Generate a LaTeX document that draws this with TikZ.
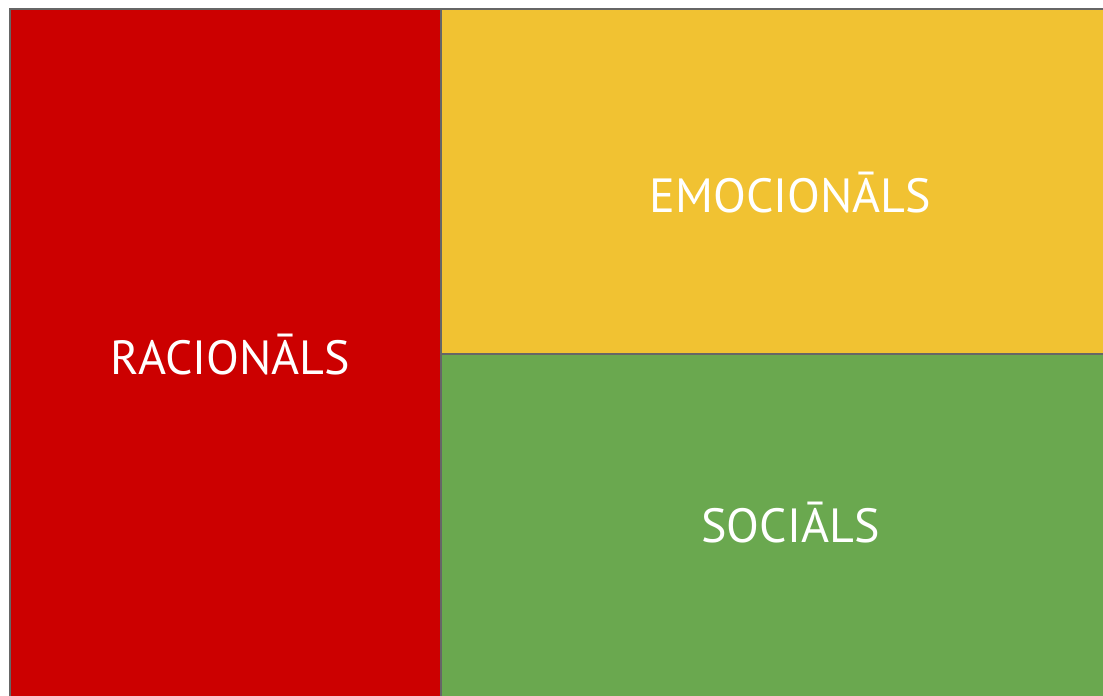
\documentclass[tikz,border=0pt]{standalone}
\usepackage{fontspec}
\setmainfont{PT Sans}
\definecolor{cred}{HTML}{CC0000}
\definecolor{cyellow}{HTML}{F1C232}
\definecolor{cgreen}{HTML}{6AA84F}
\definecolor{cborder}{HTML}{666666}
\tikzset{
  panel/.style={draw=cborder, line width=2pt, inner sep=0pt, outer sep=0pt, anchor=north west},
  lbl/.style={text=white, font=\fontsize{48}{52}\selectfont, anchor=base, inner sep=0pt}
}
\begin{document}
\begin{tikzpicture}[x=1pt,y=1pt]
\useasboundingbox (0,0) rectangle (1103,696);
\clip (0,0) rectangle (1103,696);
\node[panel, fill=cred, minimum width=431, minimum height=720] (rac) at (10,687) {};
\node[panel, fill=cyellow, minimum width=700, minimum height=345] (emo) at (441,687) {};
\node[panel, fill=cgreen, minimum width=700, minimum height=400] (soc) at (441,342) {};
\node[lbl] (tr) at (230.5,321) {RACIONĀLS};
\node[lbl] (te) at (790.5,483) {EMOCIONĀLS};
\node[lbl] (ts) at (790.5,153) {SOCIĀLS};
\end{tikzpicture}
\end{document}
